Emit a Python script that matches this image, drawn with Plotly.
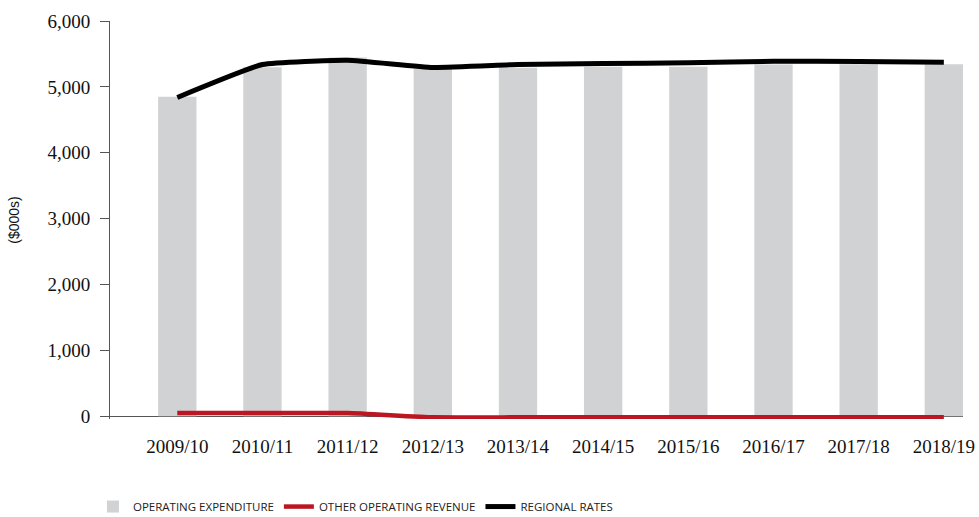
import plotly.graph_objects as go

years = ["2009/10", "2010/11", "2011/12", "2012/13", "2013/14",
         "2014/15", "2015/16", "2016/17", "2017/18", "2018/19"]
operating_expenditure = [4850, 5300, 5445, 5280, 5290, 5305, 5305, 5340, 5345, 5345]
other_operating_revenue = [50, 50, 50, -15, -15, -15, -15, -15, -15, -15]
regional_rates = [4840, 5340, 5405, 5295, 5340, 5355, 5365, 5390, 5385, 5375]

serif = "Liberation Serif, Times New Roman, serif"

fig = go.Figure()
fig.add_trace(go.Bar(
    x=years,
    y=operating_expenditure,
    name="OPERATING EXPENDITURE",
    marker=dict(color="#d1d2d4", line=dict(width=0)),
    width=0.45
))
fig.add_trace(go.Scatter(
    x=years,
    y=other_operating_revenue,
    mode="lines",
    name="OTHER OPERATING REVENUE",
    line=dict(color="#bb1622", width=4.5, shape="spline", smoothing=0.4)
))
fig.add_trace(go.Scatter(
    x=years,
    y=regional_rates,
    mode="lines",
    name="REGIONAL RATES",
    line=dict(color="#000000", width=5, shape="spline", smoothing=0.4)
))

fig.update_layout(
    width=979,
    height=517,
    paper_bgcolor="white",
    plot_bgcolor="white",
    margin=dict(l=110, r=16, t=21, b=98, autoexpand=False),
    showlegend=True,
    legend=dict(
        orientation="h",
        x=-0.02,
        xanchor="left",
        y=-0.22,
        yanchor="middle",
        font=dict(family="Open Sans, sans-serif", size=11.5, color="#222"),
        itemwidth=30,
        traceorder="normal"
    ),
    xaxis=dict(
        type="category",
        range=[-0.79, 9.225],
        automargin=False,
        showgrid=False,
        showline=False,
        ticks="outside",
        ticklen=10,
        tickcolor="rgba(0,0,0,0)",
        tickfont=dict(family=serif, size=19, color="#111")
    ),
    yaxis=dict(
        range=[-40, 6000],
        automargin=False,
        tickvals=[0, 1000, 2000, 3000, 4000, 5000, 6000],
        tickformat=",d",
        showgrid=False,
        zeroline=True,
        zerolinecolor="#555",
        zerolinewidth=1,
        showline=True,
        linecolor="#555",
        linewidth=1,
        ticks="outside",
        ticklen=9,
        tickcolor="#555",
        ticklabelstandoff=6,
        tickfont=dict(family=serif, size=19, color="#111"),
        title=dict(text="($000s)", font=dict(family="Liberation Sans, Arial, sans-serif", size=14, color="#111"),
                   standoff=24)
    )
)

# drop the default body margin so the figure sits at the page corner
fig.write_html("out.html", config={"displayModeBar": False},
               post_script="document.body.style.margin='0';")
